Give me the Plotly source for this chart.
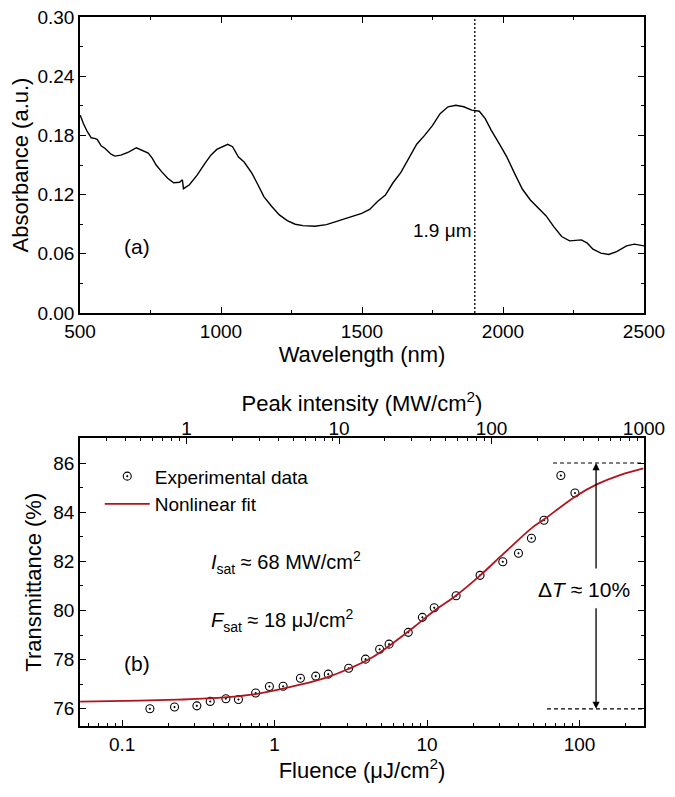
import plotly.graph_objects as go

# ---------------- data: panel (a) ----------------
wavelength_nm = [501, 512, 526, 540, 551, 561, 575, 589, 610, 624, 645, 672, 700, 721, 742, 756,
                 770, 790, 811, 832, 853, 863, 867, 888, 916, 943, 964, 985, 1006, 1024, 1041,
                 1062, 1082, 1110, 1131, 1152, 1180, 1207, 1235, 1263, 1291, 1333, 1374, 1416,
                 1458, 1499, 1527, 1555, 1583, 1610, 1638, 1666, 1694, 1722, 1749, 1777, 1805,
                 1833, 1861, 1889, 1916, 1937, 1958, 1986, 2014, 2041, 2069, 2097, 2125, 2153,
                 2180, 2208, 2236, 2264, 2278, 2299, 2319, 2347, 2375, 2403, 2438, 2466, 2500]
absorbance = [0.2005, 0.192, 0.1837, 0.1776, 0.177, 0.176, 0.1695, 0.1668, 0.161, 0.159, 0.160,
              0.163, 0.1675, 0.1645, 0.162, 0.157, 0.150, 0.143, 0.1365, 0.132, 0.1325, 0.135,
              0.126, 0.130, 0.140, 0.1517, 0.160, 0.1658, 0.1685, 0.171, 0.1685, 0.158, 0.153,
              0.1415, 0.130, 0.118, 0.108, 0.0994, 0.0937, 0.090, 0.0886, 0.088, 0.0896, 0.0933,
              0.097, 0.101, 0.105, 0.113, 0.1196, 0.132, 0.1425, 0.156, 0.171, 0.180, 0.1897,
              0.202, 0.209, 0.2106, 0.209, 0.2056, 0.2045, 0.197, 0.1853, 0.172, 0.158, 0.1415,
              0.1254, 0.1146, 0.106, 0.0984, 0.0876, 0.0775, 0.0731, 0.0735, 0.0741, 0.0708,
              0.0647, 0.0607, 0.0593, 0.0623, 0.068, 0.0698, 0.068]
marker_wavelength = 1900

# ---------------- data: panel (b) ----------------
fluence_exp = [0.152, 0.2205, 0.309, 0.378, 0.479, 0.579, 0.751, 0.924, 1.137, 1.476, 1.86,
               2.248, 3.059, 3.947, 4.883, 5.63, 7.522, 9.314, 11.13, 15.5, 22.25, 31.36, 39.75,
               48.33, 58.42, 75.37, 93.26]
transmittance_exp = [76.00, 76.07, 76.12, 76.30, 76.41, 76.38, 76.64, 76.91, 76.92, 77.24, 77.33,
                     77.41, 77.65, 78.02, 78.42, 78.63, 79.11, 79.72, 80.11, 80.60, 81.43, 81.98,
                     82.33, 82.94, 83.67, 85.49, 84.78]
fluence_fit = [0.053, 0.13, 0.23, 0.36, 0.75, 1.47, 2.2, 3.04, 4.44, 8.1, 11.0, 15.5, 22.3, 31.6,
               48.5, 58.7, 93.3, 129.5, 184, 262]
transmittance_fit = [76.29, 76.33, 76.37, 76.42, 76.6, 76.98, 77.28, 77.62, 78.12, 79.3, 79.96,
                     80.61, 81.43, 82.3, 83.35, 83.71, 84.63, 85.13, 85.51, 85.78]

wl_ticks = [500, 1000, 1500, 2000, 2500]
abs_ticks = [0.00, 0.06, 0.12, 0.18, 0.24, 0.30]
t_ticks = [76, 78, 80, 82, 84, 86]
fl_ticks = [0.1, 1, 10, 100]
fl_ticktext = ["0.1", "1", "10", "100"]
int_ticks = [1, 10, 100, 1000]
int_ticktext = ["1", "10", "100", "1000"]

FONT = "Liberation Sans, Arial, sans-serif"
TICKF = 19
TITLEF = 22
RED = "#B0141C"


def log_minor(lo_exp, hi_exp):
    vals = []
    for e in range(lo_exp, hi_exp + 1):
        for m in range(2, 10):
            vals.append(m * 10 ** e)
    return vals


fig = go.Figure()

fig.add_trace(go.Scatter(x=wavelength_nm, y=absorbance, mode="lines",
                         line=dict(color="black", width=1.4), showlegend=False,
                         xaxis="x", yaxis="y"))

fig.add_trace(go.Scatter(x=fluence_exp, y=transmittance_exp, mode="markers",
                         name="Experimental data",
                         marker=dict(symbol="circle-open-dot", size=8, color="black",
                                     line=dict(width=1.1, color="black")),
                         xaxis="x2", yaxis="y2"))
fig.add_trace(go.Scatter(x=fluence_fit, y=transmittance_fit, mode="lines",
                         name="Nonlinear fit", line=dict(color=RED, width=1.8, shape="spline"),
                         xaxis="x2", yaxis="y2"))
# invisible carrier trace so that the top (peak intensity) axis gets drawn
fig.add_trace(go.Scatter(x=int_ticks, y=[None] * len(int_ticks), mode="markers",
                         showlegend=False, hoverinfo="skip", xaxis="x3", yaxis="y2"))

axis_common = dict(showline=True, linecolor="black", linewidth=1.6, ticks="inside",
                   tickcolor="black", tickwidth=1.4, ticklen=6, showgrid=False, zeroline=False,
                   automargin=False, ticklabeloverflow="allow",
                   tickfont=dict(family=FONT, size=TICKF, color="black"))
minor_common = dict(ticks="inside", ticklen=3, tickwidth=1.2, tickcolor="black", showgrid=False)

# page body adds an 8px margin; figure is sized so the plot areas land where the reference has them
fig.update_layout(
    template="none",
    width=667, height=789,
    margin=dict(l=72, r=31, t=9, b=71, autoexpand=False),
    paper_bgcolor="white", plot_bgcolor="white",
    font=dict(family=FONT, color="black"),
    xaxis=dict(axis_common, domain=[0, 1], anchor="y", range=[500, 2500],
               tickvals=wl_ticks, mirror="ticks",
               minor=dict(minor_common, dtick=250),
               title=dict(text="Wavelength (nm)", font=dict(family=FONT, size=TITLEF), standoff=4)),
    yaxis=dict(axis_common, domain=[0.5825, 1], anchor="x", range=[0, 0.30],
               tickvals=abs_ticks, tickformat=".2f", mirror="ticks",
               minor=dict(minor_common, dtick=0.03),
               title=dict(text="Absorbance (a.u.)", font=dict(family=FONT, size=TITLEF), standoff=6)),
    xaxis2=dict(axis_common, domain=[0, 1], anchor="y2", type="log",
                range=[-1.2765, 2.4225], tickvals=fl_ticks, ticktext=fl_ticktext, mirror=True,
                minor=dict(minor_common, tickmode="array", tickvals=log_minor(-2, 2)),
                title=dict(text="Fluence (μJ/cm<sup>2</sup>)", font=dict(family=FONT, size=TITLEF),
                           standoff=4)),
    xaxis3=dict(axis_common, overlaying="x2", anchor="y2", side="top", type="log",
                range=[-0.699, 3.0], tickvals=int_ticks, ticktext=int_ticktext,
                ticklabelstandoff=-6,
                minor=dict(minor_common, tickmode="array", tickvals=log_minor(-1, 2)),
                title=dict(text="Peak intensity (MW/cm<sup>2</sup>)",
                           font=dict(family=FONT, size=TITLEF), standoff=0)),
    yaxis2=dict(axis_common, domain=[0, 0.4056], anchor="x2", range=[75.3, 87.0],
                tickvals=t_ticks, mirror="ticks",
                minor=dict(minor_common, dtick=1),
                title=dict(text="Transmittance (%)", font=dict(family=FONT, size=TITLEF), standoff=6)),
    legend=dict(x=0.035, y=0.379, xanchor="left", yanchor="top", bgcolor="rgba(0,0,0,0)",
                font=dict(family=FONT, size=19, color="black"), itemwidth=45,
                tracegroupgap=0),
    showlegend=True,
)

# dotted marker line at 1.9 um
fig.add_shape(type="line", xref="x", yref="y", x0=marker_wavelength, x1=marker_wavelength,
              y0=0, y1=0.30, line=dict(color="black", width=1.3, dash="2px,2px"))

annos = [
    dict(xref="x", yref="y", x=1893, y=0.084, text="1.9 μm", showarrow=False,
         xanchor="right", font=dict(size=19)),
    dict(xref="x", yref="y", x=650, y=0.067, text="(a)", showarrow=False,
         xanchor="left", font=dict(size=21)),
    dict(xref="paper", yref="y2", x=0.075, y=77.85, text="(b)", showarrow=False,
         xanchor="left", font=dict(size=21)),
    dict(xref="paper", yref="y2", x=0.229, y=81.95,
         text="<i>I</i><sub>sat</sub> ≈ 68 MW/cm<sup>2</sup>", showarrow=False,
         xanchor="left", font=dict(size=20)),
    dict(xref="paper", yref="y2", x=0.229, y=79.6,
         text="<i>F</i><sub>sat</sub> ≈ 18 μJ/cm<sup>2</sup>", showarrow=False,
         xanchor="left", font=dict(size=20)),
    dict(xref="paper", yref="y2", x=0.893, y=80.86, text="Δ<i>T</i> ≈ 10%", showarrow=False,
         xanchor="center", font=dict(size=21)),
    dict(xref="paper", yref="y2", x=0.915, y=86.0, text="", showarrow=True,
         axref="pixel", ayref="pixel", ax=0, ay=107, arrowhead=2, arrowsize=1.1,
         arrowwidth=1.3, arrowcolor="black"),
    dict(xref="paper", yref="y2", x=0.915, y=76.0, text="", showarrow=True,
         axref="pixel", ayref="pixel", ax=0, ay=-102, arrowhead=2, arrowsize=1.1,
         arrowwidth=1.3, arrowcolor="black"),
]
for a in annos:
    a.setdefault("font", {})
    a["font"].update(family=FONT, color="black")
    fig.add_annotation(**a)

fig.add_shape(type="line", xref="paper", yref="y2", x0=0.8387, x1=1.0, y0=86.0, y1=86.0,
              line=dict(color="black", width=1.2, dash="4px,3px"))
fig.add_shape(type="line", xref="paper", yref="y2", x0=0.828, x1=1.0, y0=76.0, y1=76.0,
              line=dict(color="black", width=1.2, dash="4px,3px"))

fig.write_html("out.html")
